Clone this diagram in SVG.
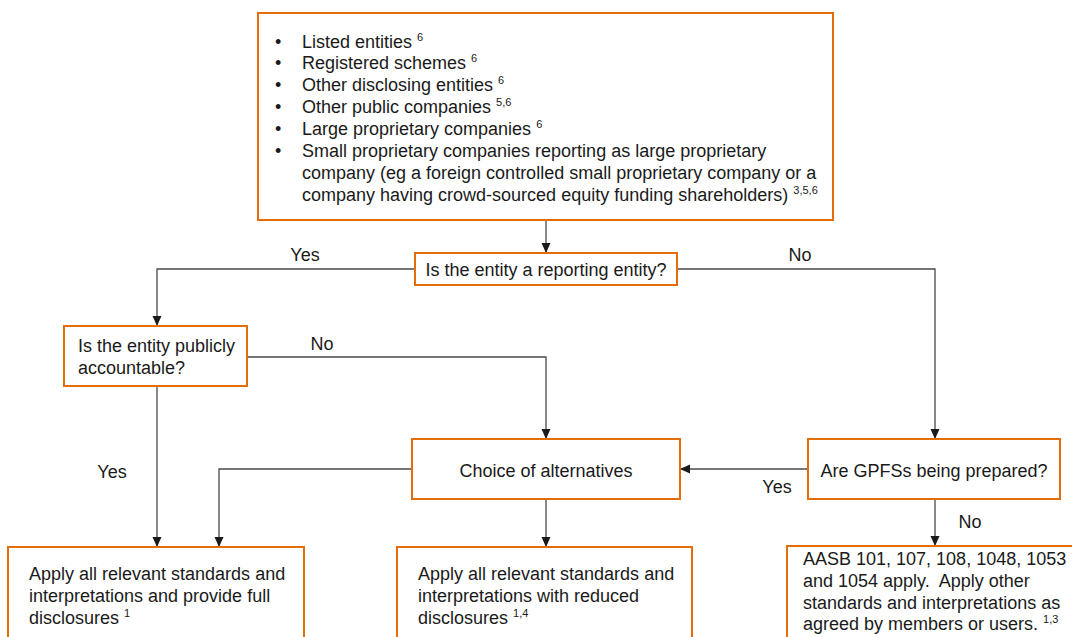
<svg xmlns="http://www.w3.org/2000/svg" width="1072" height="637" viewBox="0 0 1072 637">
<defs>
<marker id="arr" markerUnits="userSpaceOnUse" markerWidth="10" markerHeight="10" viewBox="0 0 10 10" refX="10" refY="5" orient="auto">
<path d="M0,0.5 L10,5 L0,9.5 Z" fill="#1a1a1a"/>
</marker>
<style>
.box{fill:#fff;stroke:#E46C0A;stroke-width:2}
.t{font-family:"Liberation Sans",Arial,sans-serif;font-size:18px;fill:#1a1a1a}
.c{text-anchor:middle}
.sup{font-size:11px}
.ln{fill:none;stroke:#4a4a4a;stroke-width:1.3}
</style>
</defs>
<rect width="1072" height="637" fill="#fff"/>
<g id="connectors">
<path class="ln" d="M546,220 V253" marker-end="url(#arr)"/>
<path class="ln" d="M415,269 H157 V326" marker-end="url(#arr)"/>
<path class="ln" d="M677,269 H935 V439" marker-end="url(#arr)"/>
<path class="ln" d="M247,357 H546 V439" marker-end="url(#arr)"/>
<path class="ln" d="M157,386 V547" marker-end="url(#arr)"/>
<path class="ln" d="M808,469 H680" marker-end="url(#arr)"/>
<path class="ln" d="M412,469 H219 V547" marker-end="url(#arr)"/>
<path class="ln" d="M546,499 V547" marker-end="url(#arr)"/>
<path class="ln" d="M935,499 V546" marker-end="url(#arr)"/>
<text class="t c" x="305" y="261">Yes</text>
<text class="t c" x="800" y="261">No</text>
<text class="t c" x="322" y="350">No</text>
<text class="t c" x="112" y="478">Yes</text>
<text class="t c" x="777" y="493">Yes</text>
<text class="t c" x="970" y="528">No</text>
</g>
<g id="entities">
<rect class="box" x="258" y="13" width="575" height="207"/>
<g class="t">
<text x="275" y="48">•</text><text x="302" y="48">Listed entities <tspan class="sup" dy="-7">6</tspan></text>
<text x="275" y="69">•</text><text x="302" y="69">Registered schemes <tspan class="sup" dy="-7">6</tspan></text>
<text x="275" y="91">•</text><text x="302" y="91">Other disclosing entities <tspan class="sup" dy="-7">6</tspan></text>
<text x="275" y="113">•</text><text x="302" y="113">Other public companies <tspan class="sup" dy="-7">5,6</tspan></text>
<text x="275" y="135">•</text><text x="302" y="135">Large proprietary companies <tspan class="sup" dy="-7">6</tspan></text>
<text x="275" y="157">•</text><text x="302" y="157">Small proprietary companies reporting as large proprietary</text>
<text x="302" y="179">company (eg a foreign controlled small proprietary company or a</text>
<text x="302" y="201">company having crowd-sourced equity funding shareholders) <tspan class="sup" dy="-7">3,5,6</tspan></text>
</g>
</g>
<g id="reporting">
<rect class="box" x="415" y="253" width="262" height="32"/>
<text class="t c" x="546" y="276">Is the entity a reporting entity?</text>
</g>
<g id="publicly">
<rect class="box" x="64" y="326" width="183" height="60"/>
<text class="t" x="78" y="352">Is the entity publicly</text>
<text class="t" x="78" y="374">accountable?</text>
</g>
<g id="choice">
<rect class="box" x="412" y="439" width="268" height="60"/>
<text class="t c" x="546" y="477">Choice of alternatives</text>
</g>
<g id="gpfs">
<rect class="box" x="808" y="439" width="252" height="60"/>
<text class="t c" x="934" y="477">Are GPFSs being prepared?</text>
</g>
<g id="full">
<rect class="box" x="8" y="547" width="296" height="110"/>
<text class="t" x="29" y="580">Apply all relevant standards and</text>
<text class="t" x="29" y="602">interpretations and provide full</text>
<text class="t" x="29" y="624">disclosures <tspan class="sup" dy="-7">1</tspan></text>
</g>
<g id="reduced">
<rect class="box" x="397" y="547" width="295" height="110"/>
<text class="t" x="418" y="580">Apply all relevant standards and</text>
<text class="t" x="418" y="602">interpretations with reduced</text>
<text class="t" x="418" y="624">disclosures <tspan class="sup" dy="-7">1,4</tspan></text>
</g>
<g id="special">
<rect class="box" x="787" y="546" width="300" height="110"/>
<text class="t" x="803" y="565">AASB 101, 107, 108, 1048, 1053</text>
<text class="t" x="803" y="587">and 1054 apply.&#160; Apply other</text>
<text class="t" x="803" y="609">standards and interpretations as</text>
<text class="t" x="803" y="630">agreed by members or users. <tspan class="sup" dy="-7">1,3</tspan></text>
</g>
</svg>
